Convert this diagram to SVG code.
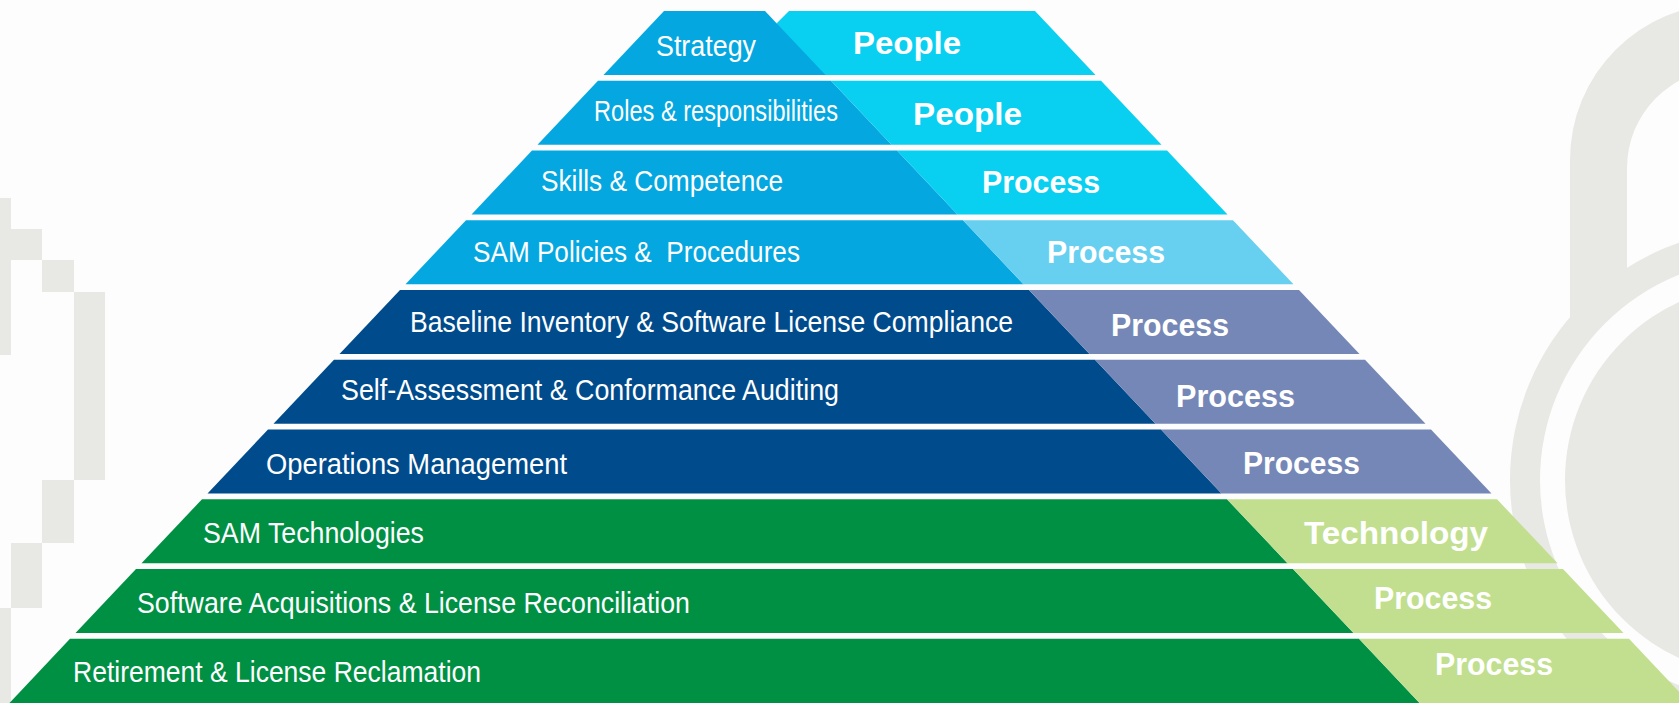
<svg xmlns="http://www.w3.org/2000/svg" width="1679" height="703" viewBox="0 0 1679 703">
<style>
.bg{fill:#FDFDFD}
.deco{fill:#E8E8E4}
.cyan{fill:#04A7E0}
.cyanL{fill:#09CFF0}
.cyanP{fill:#67CFEF}
.navy{fill:#004B8C}
.lav{fill:#7587B6}
.green{fill:#009044}
.greenL{fill:#C1DF8F}
text{font-family:"Liberation Sans",Arial,sans-serif;fill:#FFFFFF}
.lbl{font-size:29px}
.tag{font-size:31px;font-weight:bold}
</style>
<rect class="bg" x="0" y="0" width="1679" height="703"/>
<g id="background-left">
<rect class="deco" x="0" y="198" width="11" height="157"/>
<rect class="deco" x="11" y="229" width="31" height="31"/>
<rect class="deco" x="42" y="260" width="32" height="32"/>
<rect class="deco" x="74" y="292" width="31" height="188"/>
<rect class="deco" x="42" y="480" width="32" height="63"/>
<rect class="deco" x="11" y="543" width="31" height="65"/>
<rect class="deco" x="0" y="608" width="11" height="95"/>
</g>
<g id="background-lock">
<path class="deco" d="M1570,330 L1570,160 A156,156 0 0 1 1882,160 L1882,330 L1825,330 L1825,168 A99,99 0 0 0 1627,168 L1627,330 Z"/>
<circle class="deco" cx="1761" cy="480" r="251"/>
<circle fill="#FDFDFD" cx="1761" cy="480" r="221"/>
<circle class="deco" cx="1761" cy="480" r="196"/>
</g>
<g id="tier-strategy">
<polygon class="cyanL" points="789,11 1035,11 1095.5,75 780,75 777,23"/>
<polygon class="cyan" points="664,11 765,11 825.5,75 603.5,75"/>
<text class="lbl" x="656" y="56" textLength="100" lengthAdjust="spacingAndGlyphs">Strategy</text>
<text class="tag" x="853" y="54" textLength="108" lengthAdjust="spacingAndGlyphs">People</text>
</g>
<g id="tier-roles">
<polygon class="cyan" points="598,80.75 831,80.75 891.5,144.75 537.5,144.75"/>
<polygon class="cyanL" points="831,80.75 1101,80.75 1161.5,144.75 891.5,144.75"/>
<text class="lbl" x="594" y="121" textLength="244" lengthAdjust="spacingAndGlyphs">Roles &amp; responsibilities</text>
<text class="tag" x="913" y="125" textLength="109" lengthAdjust="spacingAndGlyphs">People</text>
</g>
<g id="tier-skills">
<polygon class="cyan" points="532,150.5 897,150.5 957.5,214.5 471.5,214.5"/>
<polygon class="cyanL" points="897,150.5 1167,150.5 1227.5,214.5 957.5,214.5"/>
<text class="lbl" x="541" y="191" textLength="242" lengthAdjust="spacingAndGlyphs">Skills &amp; Competence</text>
<text class="tag" x="982" y="193" textLength="118" lengthAdjust="spacingAndGlyphs">Process</text>
</g>
<g id="tier-policies">
<polygon class="cyan" points="466,220.25 963,220.25 1023.5,284.25 405.5,284.25"/>
<polygon class="cyanP" points="963,220.25 1233,220.25 1293.5,284.25 1023.5,284.25"/>
<text class="lbl" x="473" y="262" textLength="327" lengthAdjust="spacingAndGlyphs" xml:space="preserve">SAM Policies &amp;  Procedures</text>
<text class="tag" x="1047" y="263" textLength="118" lengthAdjust="spacingAndGlyphs">Process</text>
</g>
<g id="tier-baseline">
<polygon class="navy" points="400,290 1029,290 1089.5,354 339.5,354"/>
<polygon class="lav" points="1029,290 1299,290 1359.5,354 1089.5,354"/>
<text class="lbl" x="410" y="332" textLength="603" lengthAdjust="spacingAndGlyphs">Baseline Inventory &amp; Software License Compliance</text>
<text class="tag" x="1111" y="336" textLength="118" lengthAdjust="spacingAndGlyphs">Process</text>
</g>
<g id="tier-selfassessment">
<polygon class="navy" points="334,359.75 1095,359.75 1155.5,423.75 273.5,423.75"/>
<polygon class="lav" points="1095,359.75 1365,359.75 1425.5,423.75 1155.5,423.75"/>
<text class="lbl" x="341" y="400" textLength="498" lengthAdjust="spacingAndGlyphs">Self-Assessment &amp; Conformance Auditing</text>
<text class="tag" x="1176" y="407" textLength="119" lengthAdjust="spacingAndGlyphs">Process</text>
</g>
<g id="tier-operations">
<polygon class="navy" points="268,429.5 1161,429.5 1221.5,493.5 207.5,493.5"/>
<polygon class="lav" points="1161,429.5 1431,429.5 1491.5,493.5 1221.5,493.5"/>
<text class="lbl" x="266" y="474" textLength="301" lengthAdjust="spacingAndGlyphs">Operations Management</text>
<text class="tag" x="1243" y="474" textLength="117" lengthAdjust="spacingAndGlyphs">Process</text>
</g>
<g id="tier-technologies">
<polygon class="green" points="202,499.25 1227,499.25 1287.5,563.25 141.5,563.25"/>
<polygon class="greenL" points="1227,499.25 1497,499.25 1557.5,563.25 1287.5,563.25"/>
<text class="lbl" x="203" y="543" textLength="221" lengthAdjust="spacingAndGlyphs">SAM Technologies</text>
<text class="tag" x="1304" y="544" textLength="184" lengthAdjust="spacingAndGlyphs">Technology</text>
</g>
<g id="tier-acquisitions">
<polygon class="green" points="136,569 1293,569 1353.5,633 75.5,633"/>
<polygon class="greenL" points="1293,569 1563,569 1623.5,633 1353.5,633"/>
<text class="lbl" x="137" y="613" textLength="553" lengthAdjust="spacingAndGlyphs">Software Acquisitions &amp; License Reconciliation</text>
<text class="tag" x="1374" y="609" textLength="118" lengthAdjust="spacingAndGlyphs">Process</text>
</g>
<g id="tier-retirement">
<polygon class="green" points="70,638.75 1359,638.75 1419.5,703 9.5,703"/>
<polygon class="greenL" points="1359,638.75 1629,638.75 1689.5,703 1419.5,703"/>
<text class="lbl" x="73" y="682" textLength="408" lengthAdjust="spacingAndGlyphs">Retirement &amp; License Reclamation</text>
<text class="tag" x="1435" y="675" textLength="118" lengthAdjust="spacingAndGlyphs">Process</text>
</g>
</svg>
